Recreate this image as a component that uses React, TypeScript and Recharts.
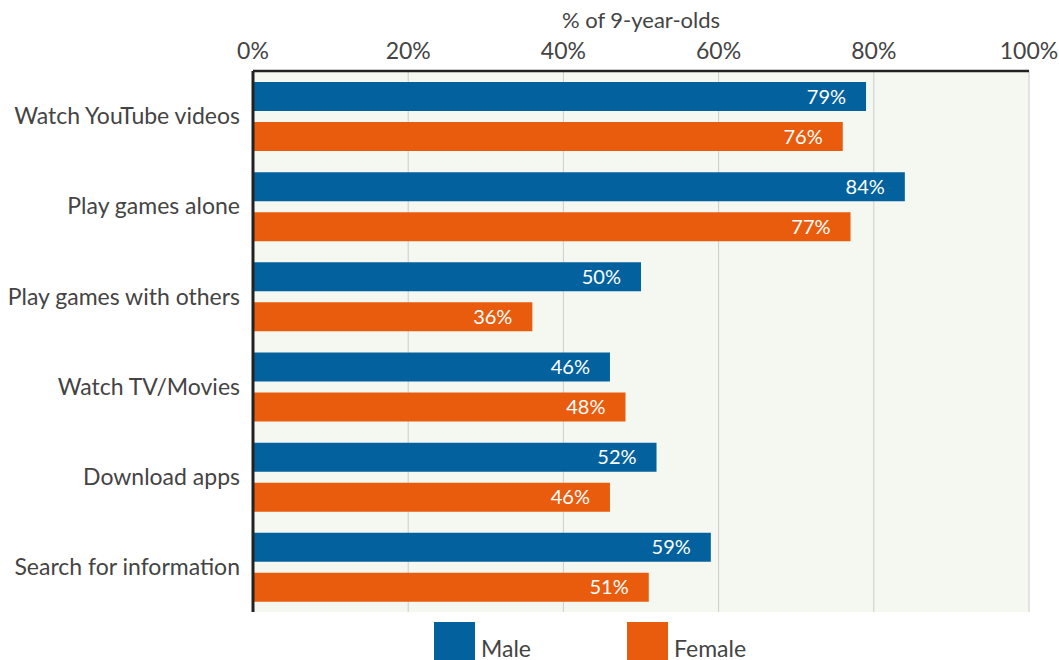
import { BarChart, Bar, XAxis, YAxis, CartesianGrid, LabelList } from 'recharts'

const categories = [
  'Watch YouTube videos',
  'Play games alone',
  'Play games with others',
  'Watch TV/Movies',
  'Download apps',
  'Search for information',
]
const maleValues = [79, 84, 50, 46, 52, 59]
const femaleValues = [76, 77, 36, 48, 46, 51]
const xTicks = [0, 20, 40, 60, 80, 100]
const seriesNames = ['Male', 'Female']

const BLUE = '#03629e'
const ORANGE = '#e95b0d'
const FONT = 'Lato, "Open Sans", sans-serif'
const seriesColors = [BLUE, ORANGE]

const data = categories.map((c, i) => ({ name: c, male: maleValues[i], female: femaleValues[i] }))

export default function App() {
  return (
    <div style={{ position: 'absolute', left: 0, top: 0, width: 1059, height: 660, background: '#fff' }}>
      <BarChart
        width={1059}
        height={660}
        data={data}
        layout="vertical"
        margin={{ top: 0, right: 30, left: 0, bottom: 48 }}
        barCategoryGap={11}
        barGap={11}
      >
        <CartesianGrid horizontal={false} stroke="#cccccc" fill="#f5f8f1" />
        <XAxis
          type="number"
          orientation="top"
          domain={[0, 100]}
          ticks={xTicks}
          tickFormatter={(v: number) => `${v}%`}
          axisLine={{ stroke: '#222', strokeWidth: 2.5 }}
          tickLine={false}
          tickMargin={6}
          tick={{ fill: '#444', fontSize: 23, fontFamily: FONT }}
          height={71}
          label={{ value: '% of 9-year-olds', position: 'insideTop', offset: 12, fill: '#444', fontSize: 22, fontFamily: FONT }}
        />
        <YAxis
          type="category"
          dataKey="name"
          width={253}
          axisLine={{ stroke: '#222', strokeWidth: 3 }}
          tickLine={false}
          tickMargin={7}
          tick={{ fill: '#444', fontSize: 23, fontFamily: FONT }}
        />
        <Bar dataKey="male" name="Male" fill={BLUE} isAnimationActive={false}>
          <LabelList dataKey="male" position="insideRight" offset={20} formatter={(v: number) => `${v}%`} fill="#fff" fontSize={20} fontFamily={FONT} />
        </Bar>
        <Bar dataKey="female" name="Female" fill={ORANGE} isAnimationActive={false}>
          <LabelList dataKey="female" position="insideRight" offset={20} formatter={(v: number) => `${v}%`} fill="#fff" fontSize={20} fontFamily={FONT} />
        </Bar>
      </BarChart>
      <div style={{ position: 'absolute', left: 434, top: 622, display: 'flex', fontFamily: FONT, fontSize: 23, color: '#444' }}>
        {seriesNames.map((n, i) => (
          <div key={n} style={{ display: 'flex', alignItems: 'flex-end', marginRight: i === 0 ? 96 : 0 }}>
            <div style={{ width: 41, height: 38, background: seriesColors[i], marginRight: 6 }} />
            <span style={{ lineHeight: '24px' }}>{n}</span>
          </div>
        ))}
      </div>
    </div>
  )
}
